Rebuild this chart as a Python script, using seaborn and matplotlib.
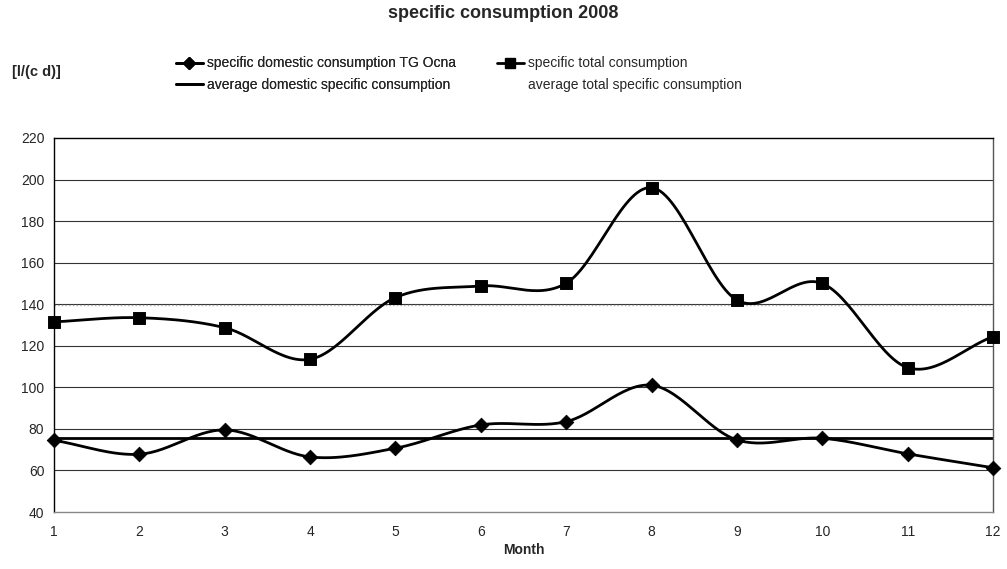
import numpy as np
import pandas as pd
import matplotlib
matplotlib.use("Agg")
import matplotlib.pyplot as plt
from matplotlib.lines import Line2D
import seaborn as sns

months = [1, 2, 3, 4, 5, 6, 7, 8, 9, 10, 11, 12]
domestic = [74.5, 67.8, 79.5, 66.5, 70.7, 81.9, 83.5, 101.0, 74.7, 75.5, 68.0, 61.3]
total = [131.5, 133.5, 128.7, 113.5, 143.2, 148.8, 150.1, 196.1, 142.0, 150.0, 109.5, 124.4]
avg_domestic = 75.5
avg_total = 139.5
y_ticks = [40, 60, 80, 100, 120, 140, 160, 180, 200, 220]


def smooth(x, y, steps=30):
    # Excel-like smoothed line (Catmull-Rom through the points)
    x = np.asarray(x, float)
    y = np.asarray(y, float)
    px = np.concatenate([[2 * x[0] - x[1]], x, [2 * x[-1] - x[-2]]])
    py = np.concatenate([[2 * y[0] - y[1]], y, [2 * y[-1] - y[-2]]])
    xs, ys = [], []
    t = np.linspace(0, 1, steps, endpoint=False)
    for i in range(1, len(px) - 2):
        for p, out in ((px, xs), (py, ys)):
            p0, p1, p2, p3 = p[i - 1], p[i], p[i + 1], p[i + 2]
            out.extend(0.5 * ((2 * p1) + (-p0 + p2) * t
                              + (2 * p0 - 5 * p1 + 4 * p2 - p3) * t ** 2
                              + (-p0 + 3 * p1 - 3 * p2 + p3) * t ** 3))
    xs.append(x[-1])
    ys.append(y[-1])
    return pd.DataFrame({"x": xs, "y": ys})


sns.set_theme(style="white")
plt.rcParams["font.family"] = ["Liberation Sans", "DejaVu Sans"]

fig = plt.figure(figsize=(10.07, 5.69), dpi=100)
ax = fig.add_axes([54 / 1007, 1 - 512 / 569, (993 - 54) / 1007, (512 - 138) / 569])

for v in y_ticks[1:-1]:
    ax.axhline(v, color="#333333", linewidth=0.8, zorder=1)

ax.axhline(avg_total, color="#aaaaaa", linewidth=1, linestyle=":", zorder=2)
ax.axhline(avg_domestic, color="black", linewidth=2, zorder=2)

df_dom = pd.DataFrame({"month": months, "value": domestic})
df_tot = pd.DataFrame({"month": months, "value": total})

sns.lineplot(data=smooth(months, domestic), x="x", y="y", sort=False,
             color="black", linewidth=2, ax=ax, zorder=3)
sns.lineplot(data=smooth(months, total), x="x", y="y", sort=False,
             color="black", linewidth=2, ax=ax, zorder=3)
sns.scatterplot(data=df_dom, x="month", y="value", marker="D", s=55,
                color="black", edgecolor="black", ax=ax, zorder=4, clip_on=False)
sns.scatterplot(data=df_tot, x="month", y="value", marker="s", s=70,
                color="black", edgecolor="black", ax=ax, zorder=4, clip_on=False)

ax.set_xlim(1, 12)
ax.set_ylim(40, 220)
ax.set_xticks(months)
ax.set_yticks(y_ticks)
ax.tick_params(axis="both", labelsize=10, length=0)
ax.tick_params(axis="x", pad=9)
ax.tick_params(axis="y", pad=7)
ax.set_xlabel("Month", fontsize=10, fontweight="bold", labelpad=3)
ax.set_ylabel("")
for side in ["top", "right", "left", "bottom"]:
    ax.spines[side].set_color("black")
    ax.spines[side].set_linewidth(1)
ax.spines["bottom"].set_color("#888888")
ax.spines["right"].set_color("#555555")

fig.text(0.5, 1 - 14 / 569, "specific consumption 2008", ha="center", va="center",
         fontsize=13, fontweight="bold")
fig.text(12 / 1007, 1 - 72 / 569, "[l/(c d)]", ha="left", va="center",
         fontsize=10.5, fontweight="bold")

left_handles = [
    Line2D([], [], color="black", linewidth=2, marker="D", markersize=6),
    Line2D([], [], color="black", linewidth=2),
]
left_labels = [
    "specific domestic consumption TG Ocna",
    "average domestic specific consumption",
]
right_handles = [
    Line2D([], [], color="black", linewidth=2, marker="s", markersize=7),
    Line2D([], [], color="white", linewidth=2),
]
right_labels = [
    "specific total consumption",
    "average total specific consumption",
]
leg = fig.legend(left_handles, left_labels, loc="upper left",
                 bbox_to_anchor=(163 / 1007, 1 - 44 / 569), frameon=False,
                 fontsize=10, handlelength=2.0, handletextpad=0.3, labelspacing=0.55)
fig.add_artist(leg)
fig.legend(right_handles, right_labels, loc="upper left",
           bbox_to_anchor=(484 / 1007, 1 - 44 / 569), frameon=False,
           fontsize=10, handlelength=2.0, handletextpad=0.3, labelspacing=0.55)

fig.savefig("out.png", dpi=100, facecolor="white")
